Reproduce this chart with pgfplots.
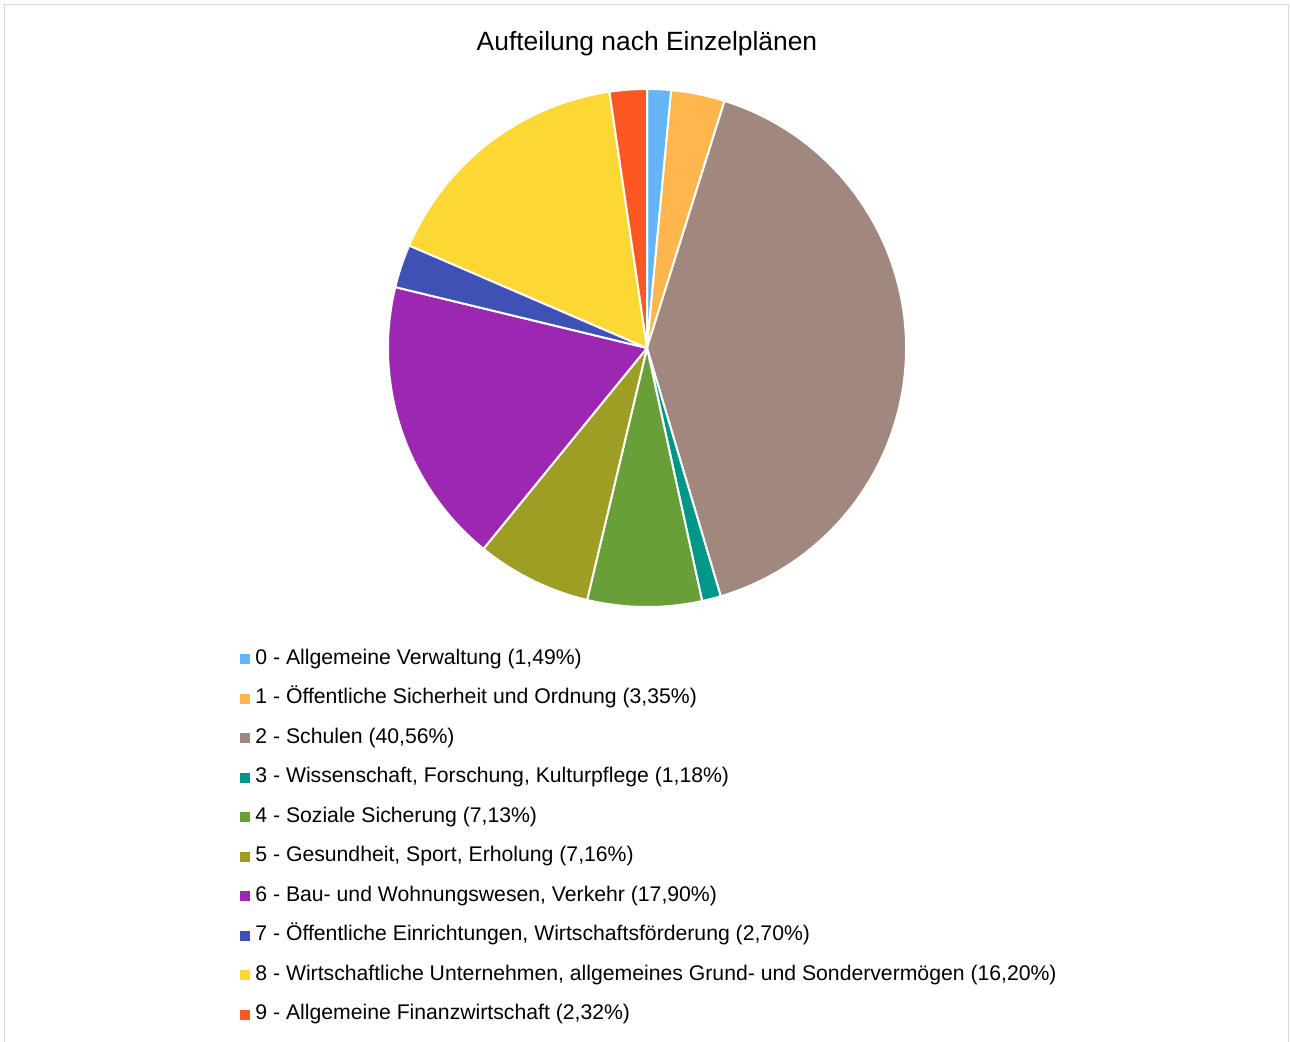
\documentclass[border=0pt]{standalone}
\usepackage{fontspec}
\setmainfont{Liberation Sans}
\usepackage{pgfplots}
\pgfplotsset{compat=1.18}
\definecolor{ep0}{HTML}{64B5F6}
\definecolor{ep1}{HTML}{FFB74D}
\definecolor{ep2}{HTML}{A1887F}
\definecolor{ep3}{HTML}{009688}
\definecolor{ep4}{HTML}{689F38}
\definecolor{ep5}{HTML}{9E9D24}
\definecolor{ep6}{HTML}{9C27B0}
\definecolor{ep7}{HTML}{3F51B5}
\definecolor{ep8}{HTML}{FDD835}
\definecolor{ep9}{HTML}{FF5722}
\definecolor{rahmen}{HTML}{D9D9D9}
\begin{document}
\begin{tikzpicture}
\begin{axis}[
  width=645pt, height=520.5pt, scale only axis,
  xmin=0, xmax=1290, ymin=0, ymax=1041,
  hide axis, clip=false,
  legend cell align=left,
  legend style={at={(axis cs:240,393)}, anchor=north west,
    draw=none, fill=none, inner sep=0pt, row sep=9.25pt,
    font=\fontsize{10.6pt}{12pt}\selectfont,
    nodes={inner sep=0pt, text height=8pt, text depth=2.5pt},
    /tikz/every odd column/.style={column sep=2.6pt}},
  legend image code/.code={\fill[#1] (0pt,-2.25pt) rectangle (4.5pt,2.25pt);},
]
% Rahmen und Titel
\draw[rahmen, line width=0.75pt] (axis cs:4.5,-20) rectangle (axis cs:1288.5,1036.5);
\node[anchor=base, font=\fontsize{13.2pt}{15pt}\selectfont] at (axis cs:647,990)
  {Aufteilung nach Einzelplänen};
% Kreissegmente (Anteile in %), im Uhrzeigersinn ab 12 Uhr
\gdef\startang{90}
\foreach \p/\c in {1.49/ep0, 3.35/ep1, 40.56/ep2, 1.18/ep3, 7.13/ep4,
                   7.16/ep5, 17.90/ep6, 2.70/ep7, 16.20/ep8, 2.32/ep9}{
  \pgfmathsetmacro\endang{\startang - 360*\p/99.99}
  \edef\piewedge{\noexpand\fill[\c, draw=white, line width=1pt, line join=round]
    (axis cs:647,693) -- ++(\startang:129.5pt)
    arc[start angle=\startang, end angle=\endang, radius=129.5pt] -- cycle;}
  \piewedge
  \global\let\startang\endang
}
\addlegendimage{ep0}\addlegendentry{0 - Allgemeine Verwaltung (1,49\%)}
\addlegendimage{ep1}\addlegendentry{1 - Öffentliche Sicherheit und Ordnung (3,35\%)}
\addlegendimage{ep2}\addlegendentry{2 - Schulen (40,56\%)}
\addlegendimage{ep3}\addlegendentry{3 - Wissenschaft, Forschung, Kulturpflege (1,18\%)}
\addlegendimage{ep4}\addlegendentry{4 - Soziale Sicherung (7,13\%)}
\addlegendimage{ep5}\addlegendentry{5 - Gesundheit, Sport, Erholung (7,16\%)}
\addlegendimage{ep6}\addlegendentry{6 - Bau- und Wohnungswesen, Verkehr (17,90\%)}
\addlegendimage{ep7}\addlegendentry{7 - Öffentliche Einrichtungen, Wirtschaftsförderung (2,70\%)}
\addlegendimage{ep8}\addlegendentry{8 - Wirtschaftliche Unternehmen, allgemeines Grund- und Sondervermögen (16,20\%)}
\addlegendimage{ep9}\addlegendentry{9 - Allgemeine Finanzwirtschaft (2,32\%)}
\end{axis}
\pgfresetboundingbox
\path[use as bounding box] (current axis.south west) rectangle (current axis.north east);
\end{tikzpicture}
\end{document}
